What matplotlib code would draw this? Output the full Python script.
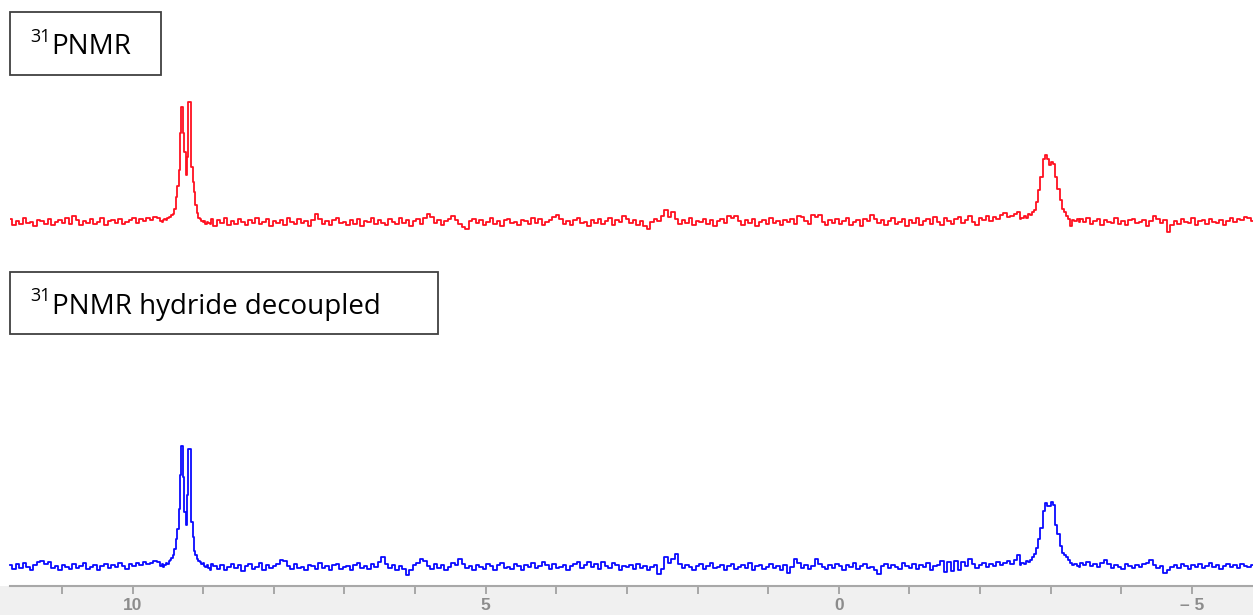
import numpy as np
import matplotlib
matplotlib.use('Agg')
import matplotlib.pyplot as plt
from matplotlib.patches import Rectangle

# ---------------- data (intensities, arbitrary units) ----------------
# baseline segment A: 11.73 -> 9.63 ppm
red_A = [3, -3, 1, -2, 4, -1, 0, -4, 2, 1, -2, 3, -3, 0, 2, -1, 4, -2, 6, 2,
         -3, 1, -1, 3, -2, 0, 4, -3, 1, 2, -1, 3, -2, 0, 2, 4, -1, 3, 1, 4,
         2, 5, 4]
blue_A = [2, -2, 3, -1, 4, 0, -3, 2, 5, 6, 3, 5, -1, 1, -3, 2, 0, -2, 3, -1,
          1, 4, -2, 0, 2, -3, 1, 3, -1, 2, 0, 4, 1, -2, 3, 1, 4, 2, 5, 3,
          4, 6, 5]
# peak window 1: 9.60 -> 8.90 ppm (doublet near 9.3 / 9.2 ppm)
red_W1 = [1, 0, 2, 3, 2, 4, 5, 5, 7, 8, 13, 25, 36, 52, 89, 115, 89, 70, 47, 65,
          120, 120, 55, 40, 30, 17, 9, 4, 3, 1, 0, 1, -2, 0, -1, -2]
blue_W1 = [1, 3, 0, 2, 4, 3, 6, 7, 9, 12, 18, 28, 38, 58, 92, 121, 90, 55, 42, 72,
           118, 118, 45, 30, 16, 12, 8, 6, 5, 3, 4, 1, 0, 2, -1, -3]
# baseline segment B: 8.88 -> -2.55 ppm
red_B = [3, -4, 2, -1, 4, -3, 1, -2, 3, 0,
         -3, 2, -1, 4, -2, 0, 3, -4, 1, -1,
         2, -3, 4, 0, -2, 3, -1, 1, -4, 2,
         8, 3, -2, 1, -3, 2, 4, -1, 0, -3,
         2, -2, 3, -4, 1, 0, 4, -2, 2, -1,
         -3, 3, 0, -2, 4, -1, 2, -4, 1, 3,
         -2, 4, 8, 5, -1, 2, -3, 1, 3, 6,
         2, -2, -5, -7, 1, 3, -1, 2, -3, 0,
         4, -2, 1, -4, 2, 3, -1, 0, -3, 2,
         1, -2, 4, -1, 3, -3, 0, 2, 5, 7,
         3, -2, 1, -3, 2, 4, -1, 0, -4, 2,
         -1, 3, -2, 1, 4, -3, 2, 0, 6, 3,
         -1, 2, -3, 1, -4, -7, 0, 3, 1, 6,
         12, 5, 10, 3, -2, 2, -1, 4, -3, 1,
         0, 3, -2, 2, -4, 1, 3, -1, 6, 4,
         6, 1, -3, 2, -1, 3, -4, 0, 2, -2,
         4, -1, 1, -3, 2, 0, 3, -2, 6, 5,
         1, -2, 7, 5, 7, 0, -3, 2, -1, 3,
         -2, 1, 4, -3, 0, 2, -4, 3, 1, 7,
         3, -1, 2, -3, 1, 4, -2, 0, 3, -4,
         2, -1, 4, -3, 1, 3, -2, 5, 0, -3,
         4, 1, -2, 3, 5, -1, 2, 6, 0, -3,
         4, 2, 6, 1, 5, 3, 7, 9, 5, 6,
         8, 10]
blue_B = [3, 1, -2, 2, -3, 0, 3, -1, 2, -4,
          1, 3, -2, 0, 4, -3, 2, -1, 1, 3,
          7, 6, 1, -2, 3, -1, 0, -3, 2, 1,
          -2, 4, -1, 1, -3, 2, 3, -2, 0, 1,
          -3, 2, 4, -1, 1, -2, 3, 0, 5, 10,
          3, -1, 2, -3, 1, -2, -8, -3, 2, 4,
          8, 6, 1, -2, 3, -1, 2, -3, 0, 4,
          2, 8, 3, -1, 1, -3, 2, 0, -2, 3,
          1, -3, 2, 4, -1, 0, -2, 3, 1, -3,
          2, 0, 4, -1, 1, 5, 2, -2, 3, -1,
          0, 2, -3, 1, 3, 5, -1, 2, 5, 0,
          3, -2, 5, 1, -1, 4, 2, -3, 1, 0,
          2, -2, 3, -1, 1, -3, 0, 2, -7, -2,
          10, 4, 8, 13, 3, -1, 2, 0, -3, 1,
          3, -2, 1, 4, -1, 0, 2, -3, 1, 3,
          -2, 0, 2, -1, 4, -3, 1, 2, -2, 0,
          3, -1, 1, -3, 2, -6, 0, 8, 4, -1,
          2, -2, 1, 8, 3, 0, -2, 2, -1, 3,
          1, -3, 2, 0, 4, -2, 1, 3, -1, 0,
          -3, -7, 1, 3, -1, 2, 0, -2, 4, 1,
          -1, 3, -2, 2, 0, 4, -3, 1, 2, 6,
          -5, 5, -4, 6, -3, 5, 1, 8, 3, -1,
          2, 4, 0, 3, 1, 5, 2, 4, 6, 3,
          7, 12]
# peak window 2: -2.57 -> -3.41 ppm (peak near -2.97 ppm)
red_W2 = [3, 4, 6, 4, 8, 7, 10, 12, 20, 32, 45, 63, 67, 63, 57, 60, 58, 45, 33, 22,
          13, 10, 6, 3, -4, 2, 1, 3, 0]
blue_W2 = [2, 4, 3, 6, 5, 7, 10, 13, 19, 28, 39, 56, 64, 61, 61, 65, 62, 42, 33, 21,
           14, 12, 10, 7, 4, 2, 3, 1, 0]
# baseline segment C: -3.43 -> -5.86 ppm
red_C = [3, 0, 4, -2, 1, 3, -3, 2, 0, -1, 4, -2, 1, -3, 2, 3, -1, 0, 2, -4,
         1, 6, 3, -1, 2, -10, -3, 1, -2, 3, 0, -1, 4, -3, 1, 2, -2, 3, 0, -1,
         2, -3, 1, 4, 0, 3, 2, 5, 4, 1]
blue_C = [4, 2, 5, 1, 3, 0, 4, 7, 3, -1, 2, 0, -2, 3, 1, -1, 2, 0, 3, 4,
          7, 2, -1, 1, -6, -3, 0, 2, -1, 3, 1, -2, 2, 0, 3, -1, 1, 4, 0, 2,
          -2, 1, 3, 0, 2, -1, 3, 1, 0, 2]

segment_ranges = [(11.73, 9.63), (9.60, 8.90), (8.88, -2.55), (-2.57, -3.41), (-3.43, -5.86)]

tick_major = [10, 5, 0, -5]
tick_labels = ['10', '5', '0', '\u2013 5']
tick_minor = [11, 9, 8, 7, 6, 4, 3, 2, 1, -1, -2, -3, -4]

label_top = '31', 'PNMR'
label_bot = '31', 'PNMR hydride decoupled'

# ---------------- assemble spectra ----------------
def assemble(parts):
    xs, ys = [], []
    for (a, b), vals in zip(segment_ranges, parts):
        xs.append(np.linspace(a, b, len(vals)))
        ys.append(np.asarray(vals, dtype=float))
    return np.concatenate(xs), np.concatenate(ys)

ppm_r, red = assemble([red_A, red_W1, red_B, red_W2, red_C])
ppm_b, blue = assemble([blue_A, blue_W1, blue_B, blue_W2, blue_C])

# ---------------- figure ----------------
W, H = 1253, 615
fig = plt.figure(figsize=(W / 100, H / 100), dpi=100)
fig.patch.set_facecolor('white')

def fx(x):
    return x / W

def fy(y):
    return 1 - y / H

# grey strip under the ppm axis
fig.add_artist(Rectangle((0, 0), 1, fy(586), transform=fig.transFigure,
                         facecolor='#f0f0f0', edgecolor='none', zorder=0))

XL = (11.736, -5.864)

ax_top = fig.add_axes([fx(10), fy(240), fx(1253) - fx(10), (240 - 90) / H])
ax_top.plot(ppm_r, red, color='#ff1020', lw=1.3, drawstyle='steps-mid')
ax_top.set_xlim(*XL)
ax_top.set_ylim(-18, 132)
ax_top.axis('off')

ax_bot = fig.add_axes([fx(10), fy(586), fx(1253) - fx(10), (586 - 430) / H])
ax_bot.set_facecolor('none')
ax_bot.plot(ppm_b, blue, color='#0a0aff', lw=1.3, drawstyle='steps-mid', clip_on=False)
ax_bot.set_xlim(*XL)
ax_bot.set_ylim(-19, 137)
for s in ['top', 'left', 'right']:
    ax_bot.spines[s].set_visible(False)
ax_bot.spines['bottom'].set_color('#a8a8a8')
ax_bot.spines['bottom'].set_linewidth(1.5)
ax_bot.set_yticks([])
ax_bot.set_xticks(tick_major)
ax_bot.set_xticklabels(tick_labels, fontfamily='Liberation Sans', fontsize=12.5,
                       color='#8c8c8c', fontweight='bold')
ax_bot.set_xticks(tick_minor, minor=True)
ax_bot.tick_params(axis='x', which='both', direction='out', length=6, width=1.2,
                   color='#9a9a9a', pad=2.5)

# ---------------- labelled boxes ----------------
def box(x0, y0, x1, y1):
    fig.add_artist(Rectangle((fx(x0), fy(y1)), fx(x1) - fx(x0), fy(y0) - fy(y1),
                             transform=fig.transFigure, facecolor='white',
                             edgecolor='#404040', lw=1.3, zorder=3))

def label(sup, main, x_sup, y_sup, x_main, y_main):
    fig.text(fx(x_sup), fy(y_sup), sup, fontfamily='Open Sans', fontsize=13,
             va='baseline', ha='left', color='black', zorder=4)
    fig.text(fx(x_main), fy(y_main), main, fontfamily='Open Sans', fontsize=20,
             va='baseline', ha='left', color='black', zorder=4)

box(10, 12, 161, 75)
label(label_top[0], label_top[1], 30.5, 41.7, 51.5, 54)
box(10, 272, 438, 334)
label(label_bot[0], label_bot[1], 30.5, 300.7, 52.3, 314)

fig.savefig('out.png', dpi=100, facecolor='white')
